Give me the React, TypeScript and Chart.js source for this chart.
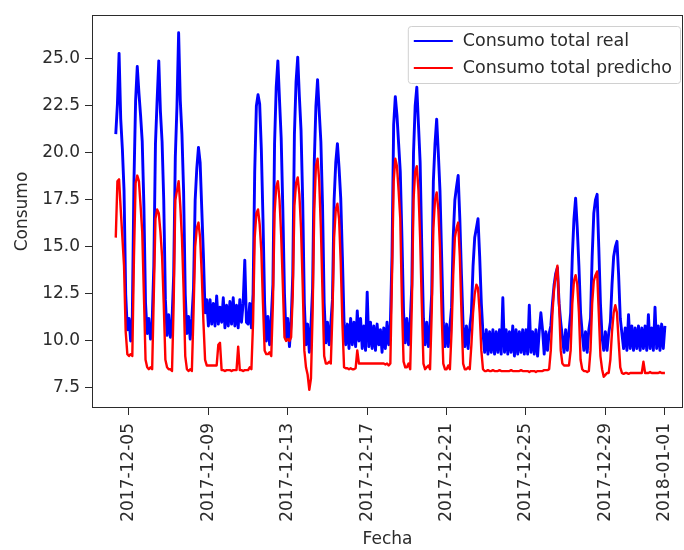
import { useEffect, useRef } from "react";
import { Chart, registerables } from "chart.js";

Chart.register(...registerables);

const FONT = '"DejaVu Sans", "Noto Sans", sans-serif';
const TEXT = "#2b2b2b";
const REAL_COLOR = "#0000ff";
const PRED_COLOR = "#ff0000";

// Readings every two hours (00:00 … 22:00); one row per day.
const hourSteps = [0, 2, 4, 6, 8, 10, 12, 14, 16, 18, 20, 22];
const firstDay = 4; // first row is 2017-12-04

// Dec 4 – Dec 10
const realWeek1: (number | null)[][] = [
  [null, null, null, null, 21.0, 22.6, 25.3, 21.8, 20.2, 18.0, 12.5, 10.6],
  [11.2, 10.0, 11.3, 18.5, 22.8, 24.6, 23.2, 22.0, 20.6, 17.2, 12.0, 10.4],
  [11.2, 10.1, 11.0, 14.0, 20.5, 22.8, 24.9, 22.2, 20.6, 17.5, 12.2, 10.3],
  [11.4, 10.2, 11.1, 13.5, 19.8, 22.5, 26.4, 22.8, 21.0, 18.0, 12.5, 10.4],
  [11.3, 10.1, 11.2, 12.8, 17.5, 19.2, 20.3, 19.5, 17.0, 14.5, 11.5, 12.2],
  [10.8, 12.2, 10.9, 12.0, 10.8, 12.4, 10.9, 11.8, 11.0, 12.3, 10.7, 11.9],
  [10.8, 12.1, 10.9, 12.3, 10.8, 11.9, 10.7, 12.2, 11.0, 12.0, 14.3, 11.0],
];
const predWeek1: (number | null)[][] = [
  [null, null, null, null, 15.5, 18.5, 18.6, 17.0, 15.5, 14.0, 10.5, 9.3],
  [9.2, 9.3, 9.2, 14.5, 18.4, 18.8, 18.5, 17.2, 15.8, 12.5, 9.0, 8.6],
  [8.5, 8.6, 8.5, 12.5, 16.5, 17.0, 16.8, 15.8, 14.5, 12.0, 9.0, 8.6],
  [8.5, 8.5, 8.4, 12.0, 17.5, 18.0, 18.5, 17.2, 15.5, 12.8, 9.2, 8.5],
  [8.4, 8.5, 8.4, 11.5, 15.0, 16.0, 16.3, 15.5, 13.5, 11.0, 9.0, 8.7],
  [8.7, 8.7, 8.7, 8.7, 8.7, 8.7, 9.8, 9.9, 8.45, 8.45, 8.4, 8.45],
  [8.45, 8.45, 8.4, 8.45, 8.45, 8.45, 9.7, 8.45, 8.45, 8.4, 8.45, 8.45],
];

// Dec 11 – Dec 17
const realWeek2: number[][] = [
  [10.9, 12.0, 10.7, 12.5, 19.0, 22.5, 23.1, 22.6, 20.2, 16.5, 12.0, 10.0],
  [11.3, 9.8, 11.2, 13.0, 20.5, 23.5, 24.9, 22.8, 20.8, 17.0, 12.5, 10.1],
  [11.2, 9.7, 11.0, 13.5, 21.0, 23.8, 25.1, 23.0, 21.2, 17.5, 12.0, 9.8],
  [10.9, 9.4, 10.8, 12.8, 19.5, 22.5, 23.9, 22.2, 20.6, 17.2, 12.0, 9.9],
  [11.0, 9.8, 10.9, 12.2, 17.5, 19.5, 20.5, 19.2, 17.6, 14.5, 11.0, 9.8],
  [10.9, 9.6, 11.2, 9.8, 11.0, 9.7, 11.6, 10.0, 11.2, 9.6, 10.8, 9.5],
  [12.6, 9.7, 11.0, 9.6, 10.8, 9.5, 10.9, 9.8, 10.6, 9.4, 10.7, 9.6],
];
const predWeek2: number[][] = [
  [8.45, 8.6, 8.5, 11.0, 15.5, 16.8, 17.0, 16.2, 14.8, 12.0, 9.5, 9.3],
  [9.3, 9.4, 9.2, 12.0, 16.8, 18.2, 18.5, 17.5, 15.6, 13.0, 10.2, 10.0],
  [10.1, 10.0, 10.2, 12.5, 17.2, 18.4, 18.7, 17.8, 16.0, 13.0, 9.5, 8.6],
  [8.2, 7.4, 8.0, 11.5, 17.0, 19.3, 19.7, 18.5, 16.0, 12.5, 9.2, 8.8],
  [8.8, 8.9, 8.8, 11.5, 15.5, 17.0, 17.3, 16.5, 14.2, 11.0, 8.6, 8.55],
  [8.55, 8.5, 8.55, 8.5, 8.5, 8.55, 9.5, 8.8, 8.8, 8.8, 8.8, 8.8],
  [8.8, 8.8, 8.8, 8.8, 8.8, 8.8, 8.8, 8.8, 8.8, 8.8, 8.8, 8.75],
];

// Dec 18 – Dec 24
const realWeek3: number[][] = [
  [11.0, 9.8, 10.9, 14.5, 21.5, 23.0, 22.0, 20.5, 19.0, 15.5, 11.5, 9.9],
  [11.2, 9.8, 11.0, 13.0, 20.0, 22.5, 23.5, 21.5, 19.5, 15.0, 11.2, 9.8],
  [11.0, 9.7, 10.9, 12.5, 18.5, 20.5, 21.8, 20.0, 18.0, 14.5, 11.0, 9.7],
  [10.9, 9.7, 10.8, 11.8, 15.5, 17.5, 18.2, 18.8, 16.5, 13.5, 10.8, 9.7],
  [10.8, 9.6, 10.7, 11.5, 14.0, 15.5, 16.0, 16.5, 14.5, 12.0, 10.4, 9.4],
  [10.6, 9.3, 10.5, 9.4, 10.6, 9.3, 10.5, 9.4, 10.6, 9.3, 12.3, 9.4],
  [10.6, 9.3, 10.5, 9.4, 10.8, 9.2, 10.6, 9.3, 10.5, 9.4, 10.6, 9.3],
];
const predWeek3: number[][] = [
  [8.8, 8.7, 8.8, 13.5, 18.5, 19.7, 19.3, 18.0, 16.5, 12.0, 8.9, 8.6],
  [8.6, 8.8, 8.5, 12.0, 17.5, 19.0, 19.3, 18.0, 15.5, 12.0, 8.8, 8.5],
  [8.6, 8.7, 8.5, 11.5, 16.0, 17.5, 17.9, 17.0, 15.0, 11.5, 8.8, 8.5],
  [8.5, 8.7, 8.5, 10.5, 13.5, 15.5, 16.0, 16.3, 14.5, 11.5, 8.8, 8.5],
  [8.5, 8.6, 8.5, 9.8, 11.5, 12.5, 13.0, 12.8, 11.5, 9.5, 8.5, 8.4],
  [8.4, 8.45, 8.4, 8.4, 8.45, 8.4, 8.4, 8.4, 8.45, 8.4, 8.4, 8.4],
  [8.4, 8.4, 8.4, 8.45, 8.4, 8.4, 8.4, 8.4, 8.4, 8.45, 8.4, 8.4],
];

// Dec 25 – Dec 31
const realWeek4: number[][] = [
  [10.6, 9.3, 11.9, 9.4, 10.5, 9.3, 10.6, 9.2, 10.5, 11.5, 10.6, 9.3],
  [10.5, 9.5, 10.4, 10.8, 12.0, 13.0, 13.6, 13.9, 12.0, 11.0, 10.2, 9.4],
  [10.6, 9.5, 10.5, 11.5, 14.5, 16.5, 17.6, 16.0, 14.0, 11.5, 10.4, 9.5],
  [10.5, 9.4, 10.6, 11.2, 14.5, 16.8, 17.5, 17.8, 15.0, 12.0, 10.2, 9.5],
  [10.5, 9.5, 10.4, 11.0, 13.0, 14.5, 15.0, 15.3, 13.5, 11.2, 10.4, 9.6],
  [10.7, 9.5, 11.4, 9.6, 10.8, 9.5, 10.7, 9.6, 10.8, 9.5, 10.7, 9.6],
  [10.8, 9.5, 11.4, 9.6, 10.7, 9.5, 11.8, 9.6, 10.8, 9.5, 10.9, 9.6],
];
const predWeek4: number[][] = [
  [8.4, 8.4, 8.35, 8.4, 8.4, 8.4, 8.35, 8.4, 8.4, 8.4, 8.4, 8.45],
  [8.45, 8.45, 8.5, 9.5, 11.5, 12.8, 13.5, 14.0, 12.0, 9.5, 8.8, 8.7],
  [8.7, 8.7, 8.7, 9.5, 12.0, 13.2, 13.5, 13.0, 11.5, 9.0, 8.5, 8.4],
  [8.4, 8.35, 8.4, 9.5, 12.0, 13.2, 13.5, 13.7, 11.5, 9.2, 8.5, 8.1],
  [8.2, 8.3, 8.3, 9.0, 10.5, 11.5, 11.9, 11.5, 10.0, 8.6, 8.3, 8.25],
  [8.3, 8.3, 8.25, 8.3, 8.3, 8.3, 8.3, 8.3, 8.3, 8.3, 8.3, 8.9],
  [8.3, 8.3, 8.3, 8.35, 8.3, 8.3, 8.3, 8.3, 8.3, 8.35, 8.3, 8.3],
];

// 2018-01-01 00:00
const realJan1 = [10.8];
const predJan1 = [8.3];

// Axis ticks: day numbers counted from 2017-12-00 (day 32 = 2018-01-01)
const tickDays = [5, 9, 13, 17, 21, 25, 29, 32];
const yTicks = [7.5, 10, 12.5, 15, 17.5, 20, 22.5, 25];

const realRows = [...realWeek1, ...realWeek2, ...realWeek3, ...realWeek4, realJan1];
const predRows = [...predWeek1, ...predWeek2, ...predWeek3, ...predWeek4, predJan1];

function toPoints(rows: (number | null)[][]) {
  const pts: { x: number; y: number }[] = [];
  rows.forEach((row, i) =>
    row.forEach((v, j) => {
      if (v !== null) pts.push({ x: firstDay + i + hourSteps[j] / 24, y: v });
    })
  );
  return pts;
}

function dayLabel(d: number) {
  return new Date(Date.UTC(2017, 11, d)).toISOString().slice(0, 10);
}

// Axes frame on all four sides plus a boxed legend in the upper right
const frameAndLegend = {
  id: "frameAndLegend",
  afterDatasetsDraw(chart: any) {
    const { ctx, chartArea: a } = chart;
    ctx.save();
    ctx.strokeStyle = TEXT;
    ctx.lineWidth = 1;
    ctx.strokeRect(a.left + 0.5, a.top + 0.5, a.right - a.left - 1, a.bottom - a.top - 1);

    const sets = chart.data.datasets;
    ctx.font = `17.5px ${FONT}`;
    const textW = Math.max(...sets.map((s: any) => ctx.measureText(s.label).width));
    const boxW = 56 + textW + 7;
    const boxH = 57;
    const boxR = a.right - 3;
    const boxL = boxR - boxW;
    const boxT = a.top + 11;
    ctx.beginPath();
    ctx.roundRect(boxL + 0.5, boxT + 0.5, boxW, boxH, 3);
    ctx.fillStyle = "rgba(255,255,255,0.85)";
    ctx.fill();
    ctx.strokeStyle = "#d0d0d0";
    ctx.stroke();

    sets.forEach((s: any, i: number) => {
      const y = boxT + 15 + i * 27;
      ctx.strokeStyle = s.borderColor;
      ctx.lineWidth = 2.2;
      ctx.beginPath();
      ctx.moveTo(boxL + 6, y);
      ctx.lineTo(boxL + 45, y);
      ctx.stroke();
      ctx.fillStyle = TEXT;
      ctx.textBaseline = "middle";
      ctx.textAlign = "left";
      ctx.fillText(s.label, boxL + 55, y);
    });
    ctx.restore();
  },
};

export default function App() {
  const ref = useRef<HTMLCanvasElement | null>(null);

  useEffect(() => {
    if (!ref.current) return;
    const tickFont = { family: FONT, size: 17 };
    const chart = new Chart(ref.current, {
      type: "line",
      data: {
        datasets: [
          {
            label: "Consumo total real",
            data: toPoints(realRows),
            borderColor: REAL_COLOR,
            borderWidth: 2.9,
            borderJoinStyle: "round",
            pointRadius: 0,
            tension: 0,
            order: 2,
          },
          {
            label: "Consumo total predicho",
            data: toPoints(predRows),
            borderColor: PRED_COLOR,
            borderWidth: 2.4,
            borderJoinStyle: "round",
            pointRadius: 0,
            tension: 0,
            order: 1,
          },
        ],
      },
      options: {
        animation: false,
        responsive: true,
        maintainAspectRatio: false,
        devicePixelRatio: 1,
        layout: { padding: { top: 15, right: 1, left: 0, bottom: 0 } },
        plugins: { legend: { display: false }, tooltip: { enabled: false } },
        scales: {
          x: {
            type: "linear",
            min: 3.136,
            max: 32.91,
            afterBuildTicks: (s: any) => {
              s.ticks = tickDays.map((v) => ({ value: v }));
            },
            afterFit: (s: any) => {
              s.height = 142;
              s.paddingLeft = 0;
              s.paddingRight = 0;
            },
            ticks: {
              autoSkip: false,
              minRotation: 90,
              maxRotation: 90,
              padding: 8,
              color: TEXT,
              font: tickFont,
              callback: (v: any) => dayLabel(Number(v)),
            },
            grid: { drawOnChartArea: false, drawTicks: true, tickLength: 7, tickColor: TEXT },
            border: { display: false },
            title: {
              display: true,
              text: "Fecha",
              color: TEXT,
              font: tickFont,
              padding: { top: -2, bottom: 0 },
            },
          },
          y: {
            type: "linear",
            min: 6.436,
            max: 27.34,
            afterBuildTicks: (s: any) => {
              s.ticks = yTicks.map((v) => ({ value: v }));
            },
            afterFit: (s: any) => {
              s.width = 92;
              s.paddingTop = 0;
              s.paddingBottom = 0;
            },
            ticks: {
              padding: 5,
              color: TEXT,
              font: tickFont,
              callback: (v: any) => Number(v).toFixed(1),
            },
            grid: { drawOnChartArea: false, drawTicks: true, tickLength: 7, tickColor: TEXT },
            border: { display: false },
            title: {
              display: true,
              text: "Consumo",
              color: TEXT,
              font: tickFont,
              padding: { top: 12, bottom: 0 },
            },
          },
        },
      },
      plugins: [frameAndLegend],
    } as any);
    return () => chart.destroy();
  }, []);

  return (
    <div style={{ position: "fixed", left: 0, top: 0, width: 684, height: 550, background: "#fff" }}>
      <canvas ref={ref} />
    </div>
  );
}
